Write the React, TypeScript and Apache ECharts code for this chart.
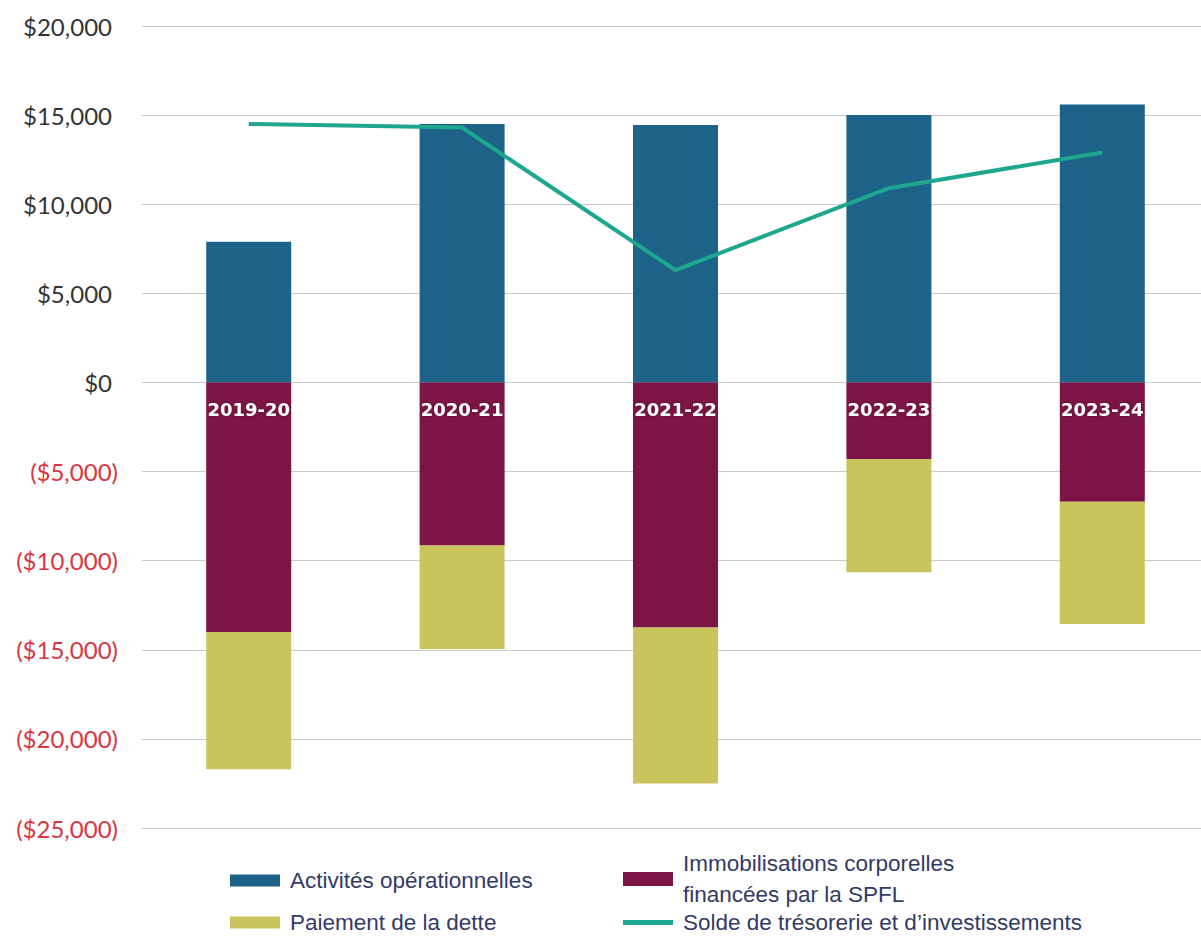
import React, { useEffect, useRef } from 'react';
import * as echarts from 'echarts';

const categories = ['2019-20', '2020-21', '2021-22', '2022-23', '2023-24'];
const operations = [7900, 14500, 14450, 15000, 15600];
const capitalAssets = [-14000, -9150, -13750, -4300, -6700];
const debtPayment = [-7700, -5800, -8750, -6350, -6850];
const cashBalance = [14500, 14300, 6300, 10900, 12900];

const names = {
  ops: 'Activités opérationnelles',
  cap: 'Immobilisations corporelles\nfinancées par la SPFL',
  debt: 'Paiement de la dette',
  cash: 'Solde de trésorerie et d\u2019investissements',
};

const legendText = { color: '#333a66', fontSize: 22.5, fontFamily: 'Liberation Sans, Arial, sans-serif', padding: [0, 0, 0, 5] };
const legendBase = { icon: 'rect', itemWidth: 50, itemHeight: 12, selectedMode: false, padding: 0 };

export default function App() {
  const ref = useRef<HTMLDivElement>(null);
  useEffect(() => {
    document.body.style.margin = '0';
    const chart = echarts.init(ref.current!, null, { renderer: 'svg' });
    chart.setOption({
      animation: false,
      backgroundColor: '#ffffff',
      grid: { left: 142, right: 0, top: 26, bottom: 117 },
      xAxis: {
        type: 'category', data: categories,
        axisLine: { show: false }, axisTick: { show: false }, axisLabel: { show: false }, splitLine: { show: false },
      },
      yAxis: {
        type: 'value', min: -25000, max: 20000, interval: 5000,
        axisLine: { show: false }, axisTick: { show: false },
        splitLine: { lineStyle: { color: '#c9c9c9', width: 1.2 } },
        axisLabel: {
          margin: 24,
          formatter: (v: number) => {
            const s = '$' + Math.abs(v).toLocaleString('en-US');
            return v < 0 ? `{n|(${s})}` : `{p|${s}}`;
          },
          rich: {
            n: { color: '#d9353f', fontSize: 24, fontFamily: 'Lato, sans-serif' },
            p: { color: '#333333', fontSize: 24, fontFamily: 'Lato, sans-serif', padding: [0, 6, 0, 0] },
          },
        },
      },
      legend: [
        { ...legendBase, data: [names.ops], left: 230, top: 869, textStyle: legendText },
        { ...legendBase, data: [names.debt], left: 230, top: 911, textStyle: legendText },
        { ...legendBase, data: [names.cap], left: 623, top: 848, itemHeight: 14, textStyle: { ...legendText, lineHeight: 31 } },
        { ...legendBase, data: [names.cash], left: 623, top: 911, itemHeight: 5, textStyle: legendText },
      ],
      series: [
        { name: names.ops, type: 'bar', stack: 'total', barWidth: 85, data: operations, itemStyle: { color: '#1d6389' } },
        {
          name: names.cap, type: 'bar', stack: 'total', barWidth: 85, data: capitalAssets, itemStyle: { color: '#7c1446' },
          label: {
            show: true, position: 'insideTop', distance: 18, color: '#ffffff', fontSize: 18, fontWeight: 'bold',
            fontFamily: 'DejaVu Sans, sans-serif', textShadowColor: 'rgba(0,0,0,0.4)', textShadowBlur: 2,
            formatter: (p: any) => categories[p.dataIndex],
          },
        },
        { name: names.debt, type: 'bar', stack: 'total', barWidth: 85, data: debtPayment, itemStyle: { color: '#c9c45b' } },
        {
          name: names.cash, type: 'line', data: cashBalance, showSymbol: false, symbol: 'none', z: 5,
          lineStyle: { color: '#1fa68f', width: 4 }, itemStyle: { color: '#1fa68f' },
        },
      ],
    });
    return () => chart.dispose();
  }, []);
  return (
    <div style={{ width: 1201, height: 945, overflow: 'hidden' }}>
      <div ref={ref} style={{ width: 1209, height: 945 }} />
    </div>
  );
}
